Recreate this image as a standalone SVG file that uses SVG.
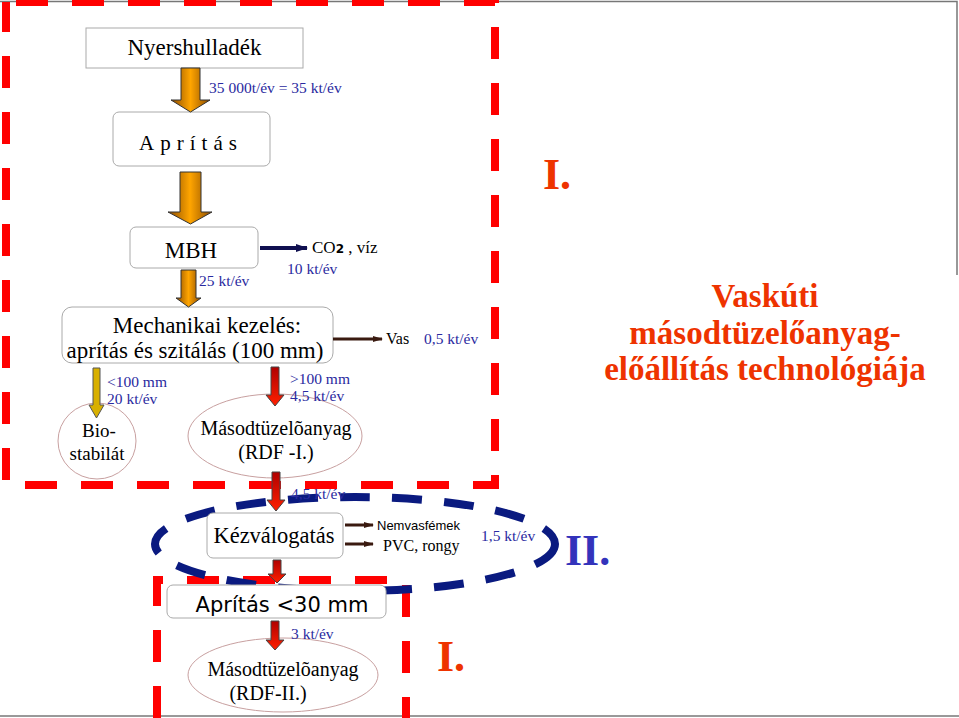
<svg xmlns="http://www.w3.org/2000/svg" width="959" height="718" viewBox="0 0 959 718">
<style>
.s{font-family:"Liberation Serif","DejaVu Serif",serif;fill:#000}
.b{font-family:"Liberation Serif","DejaVu Serif",serif;fill:#2a2aa0;font-size:15.5px}
.box{fill:#fff;stroke:#aaa;stroke-width:1}
.ell{fill:#fff;stroke:#c8a0a0;stroke-width:1}
.rd{fill:none;stroke:#f00;stroke-width:8;stroke-dasharray:32 24}
.big{font-family:"Liberation Serif","DejaVu Serif",serif;font-weight:bold;font-size:44px}
</style>
<defs>
<linearGradient id="og" x1="0" y1="0" x2="1" y2="0"><stop offset="0" stop-color="#8a4a00"/><stop offset="0.5" stop-color="#ffa500"/><stop offset="1" stop-color="#8a4a00"/></linearGradient>
<linearGradient id="rg" x1="0" y1="0" x2="0" y2="1"><stop offset="0" stop-color="#b00000"/><stop offset="1" stop-color="#ff2000"/></linearGradient>
<marker id="ah" markerUnits="userSpaceOnUse" markerWidth="10" markerHeight="8" refX="9" refY="4" orient="auto"><path d="M0,1 L10,4 L0,7 z" fill="#3a1a10"/></marker>
<marker id="ahn" markerUnits="userSpaceOnUse" markerWidth="12" markerHeight="10" refX="11" refY="5" orient="auto"><path d="M0,1 L12,5 L0,9 z" fill="#101050"/></marker>
</defs>
<rect width="959" height="718" fill="#fff"/>
<path d="M0,1.5 H957 V275" fill="none" stroke="#777" stroke-width="1.5"/>
<line x1="0" y1="716" x2="959" y2="716" stroke="#777" stroke-width="1.5"/>

<g id="frames">
<rect class="rd" x="6" y="2" width="489" height="483" style="stroke-dashoffset:-10"/>
<path class="rd" d="M157,718 V580 H406 V718"/>
<ellipse cx="355" cy="544" rx="200" ry="47" fill="none" stroke="#0a1a80" stroke-width="8" stroke-dasharray="30 22"/>
</g>

<g id="n1"><rect class="box" x="86" y="28" width="217" height="40"/><text class="s" x="194.5" y="55" font-size="23" text-anchor="middle">Nyershulladék</text></g>
<g id="n2"><rect class="box" x="113" y="112" width="157" height="54" rx="6"/><text class="s" x="191" y="150" font-size="21" text-anchor="middle" letter-spacing="6">Aprítás</text></g>
<g id="n3"><rect class="box" x="130" y="227" width="128" height="41" rx="6"/><text class="s" x="191" y="258" font-size="23" text-anchor="middle">MBH</text></g>
<g id="n4"><rect class="box" x="62" y="307" width="271" height="56" rx="10"/><text class="s" x="207" y="333" font-size="23" text-anchor="middle">Mechanikai kezelés:</text><text class="s" x="195" y="358" font-size="23" text-anchor="middle">aprítás és szitálás  (100 mm)</text></g>
<g id="n5"><ellipse class="ell" cx="97" cy="441" rx="39" ry="38"/><text class="s" x="99" y="437" font-size="19" text-anchor="middle">Bio-</text><text class="s" x="97" y="460" font-size="19" text-anchor="middle">stabilát</text></g>
<g id="n6"><ellipse class="ell" cx="275" cy="436" rx="87" ry="42"/><text class="s" x="276" y="435" font-size="20" text-anchor="middle">Másodtüzelõanyag</text><text class="s" x="276" y="459" font-size="20" text-anchor="middle">(RDF -I.)</text></g>
<g id="n7"><rect class="box" x="207" y="513" width="136" height="45" rx="6"/><text class="s" x="274" y="543" font-size="22.5" text-anchor="middle">Kézválogatás</text></g>
<g id="n8"><rect class="box" x="167" y="585" width="219" height="33" rx="6"/><text x="282" y="612" font-family="'DejaVu Sans',sans-serif" font-size="21" text-anchor="middle">Aprítás &lt;30 mm</text></g>
<g id="n9"><ellipse class="ell" cx="283" cy="675" rx="95" ry="37"/><text class="s" x="283" y="676" font-size="20" text-anchor="middle">Másodtüzelõanyag</text><text class="s" x="268" y="700" font-size="20" text-anchor="middle">(RDF-II.)</text></g>

<g id="connectors">
<path d="M181,68 H200 V100 H210 L190.5,112 L171,100 H181 Z" fill="url(#og)" stroke="#333" stroke-width="1"/>
<path d="M180,172 H201 V212 H212 L190.5,224 L168,212 H180 Z" fill="url(#og)" stroke="#333" stroke-width="1"/>
<path d="M181,270 H196 V298 H201 L188.5,307 L176,298 H181 Z" fill="url(#og)" stroke="#333" stroke-width="1"/>
<path d="M93,368 H100 V405 H104 L96.5,418 L89,405 H93 Z" fill="#d8b000" stroke="#555" stroke-width="1"/>
<path d="M271,367 H279 V395 H284 L275,406 L266,395 H271 Z" fill="url(#rg)" stroke="#444" stroke-width="1"/>
<path d="M272,472 H280 V500 H285 L276,511 L267,500 H272 Z" fill="url(#rg)" stroke="#444" stroke-width="1"/>
<path d="M273,560 H281 V574 H286 L277,583 L268,574 H273 Z" fill="url(#rg)" stroke="#444" stroke-width="1"/>
<path d="M271,621 H279 V640 H284 L275,650 L266,640 H271 Z" fill="url(#rg)" stroke="#444" stroke-width="1"/>
<line x1="260" y1="248" x2="307" y2="248" stroke="#101050" stroke-width="4" marker-end="url(#ahn)"/>
<line x1="333" y1="339" x2="382" y2="339" stroke="#3a1a10" stroke-width="3" marker-end="url(#ah)"/>
<line x1="345" y1="525" x2="373" y2="525" stroke="#3a1a10" stroke-width="3" marker-end="url(#ah)"/>
<line x1="345" y1="544" x2="373" y2="544" stroke="#3a1a10" stroke-width="3" marker-end="url(#ah)"/>
</g>

<g id="labels">
<text class="b" x="209" y="93">35 000t/év = 35 kt/év</text>
<text class="s" x="312" y="253" font-size="17">CO<tspan font-family="'DejaVu Sans',sans-serif" font-size="12" font-weight="bold">2</tspan> , víz</text>
<text class="b" x="287" y="274">10 kt/év</text>
<text class="b" x="199" y="286">25 kt/év</text>
<text class="s" x="386" y="344" font-size="16">Vas</text>
<text class="b" x="424" y="344">0,5 kt/év</text>
<text class="b" x="107" y="387">&lt;100 mm</text>
<text class="b" x="107" y="404">20 kt/év</text>
<text class="b" x="290" y="384">&gt;100 mm</text>
<text class="b" x="290" y="401">4,5 kt/év</text>
<text class="b" x="291" y="499">4,5 kt/év</text>
<text x="377" y="530" font-family="'Liberation Sans',sans-serif" font-size="13">Nemvasfémek</text>
<text class="s" x="383" y="551" font-size="16">PVC, rongy</text>
<text class="b" x="481" y="541">1,5 kt/év</text>
<text class="b" x="291" y="639">3 kt/év</text>
<text class="big" x="543" y="189" fill="#ee3300">I.</text>
<text class="big" x="437" y="671" fill="#ee3300">I.</text>
<text class="big" x="565" y="565" fill="#3333bb">II.</text>
<g class="s" font-weight="bold" font-size="33" text-anchor="middle" style="fill:#ee3300">
<text x="765" y="307">Vaskúti</text>
<text x="765" y="344">másodtüzelőanyag-</text>
<text x="765" y="380">előállítás technológiája</text>
</g>
</g>
</svg>
